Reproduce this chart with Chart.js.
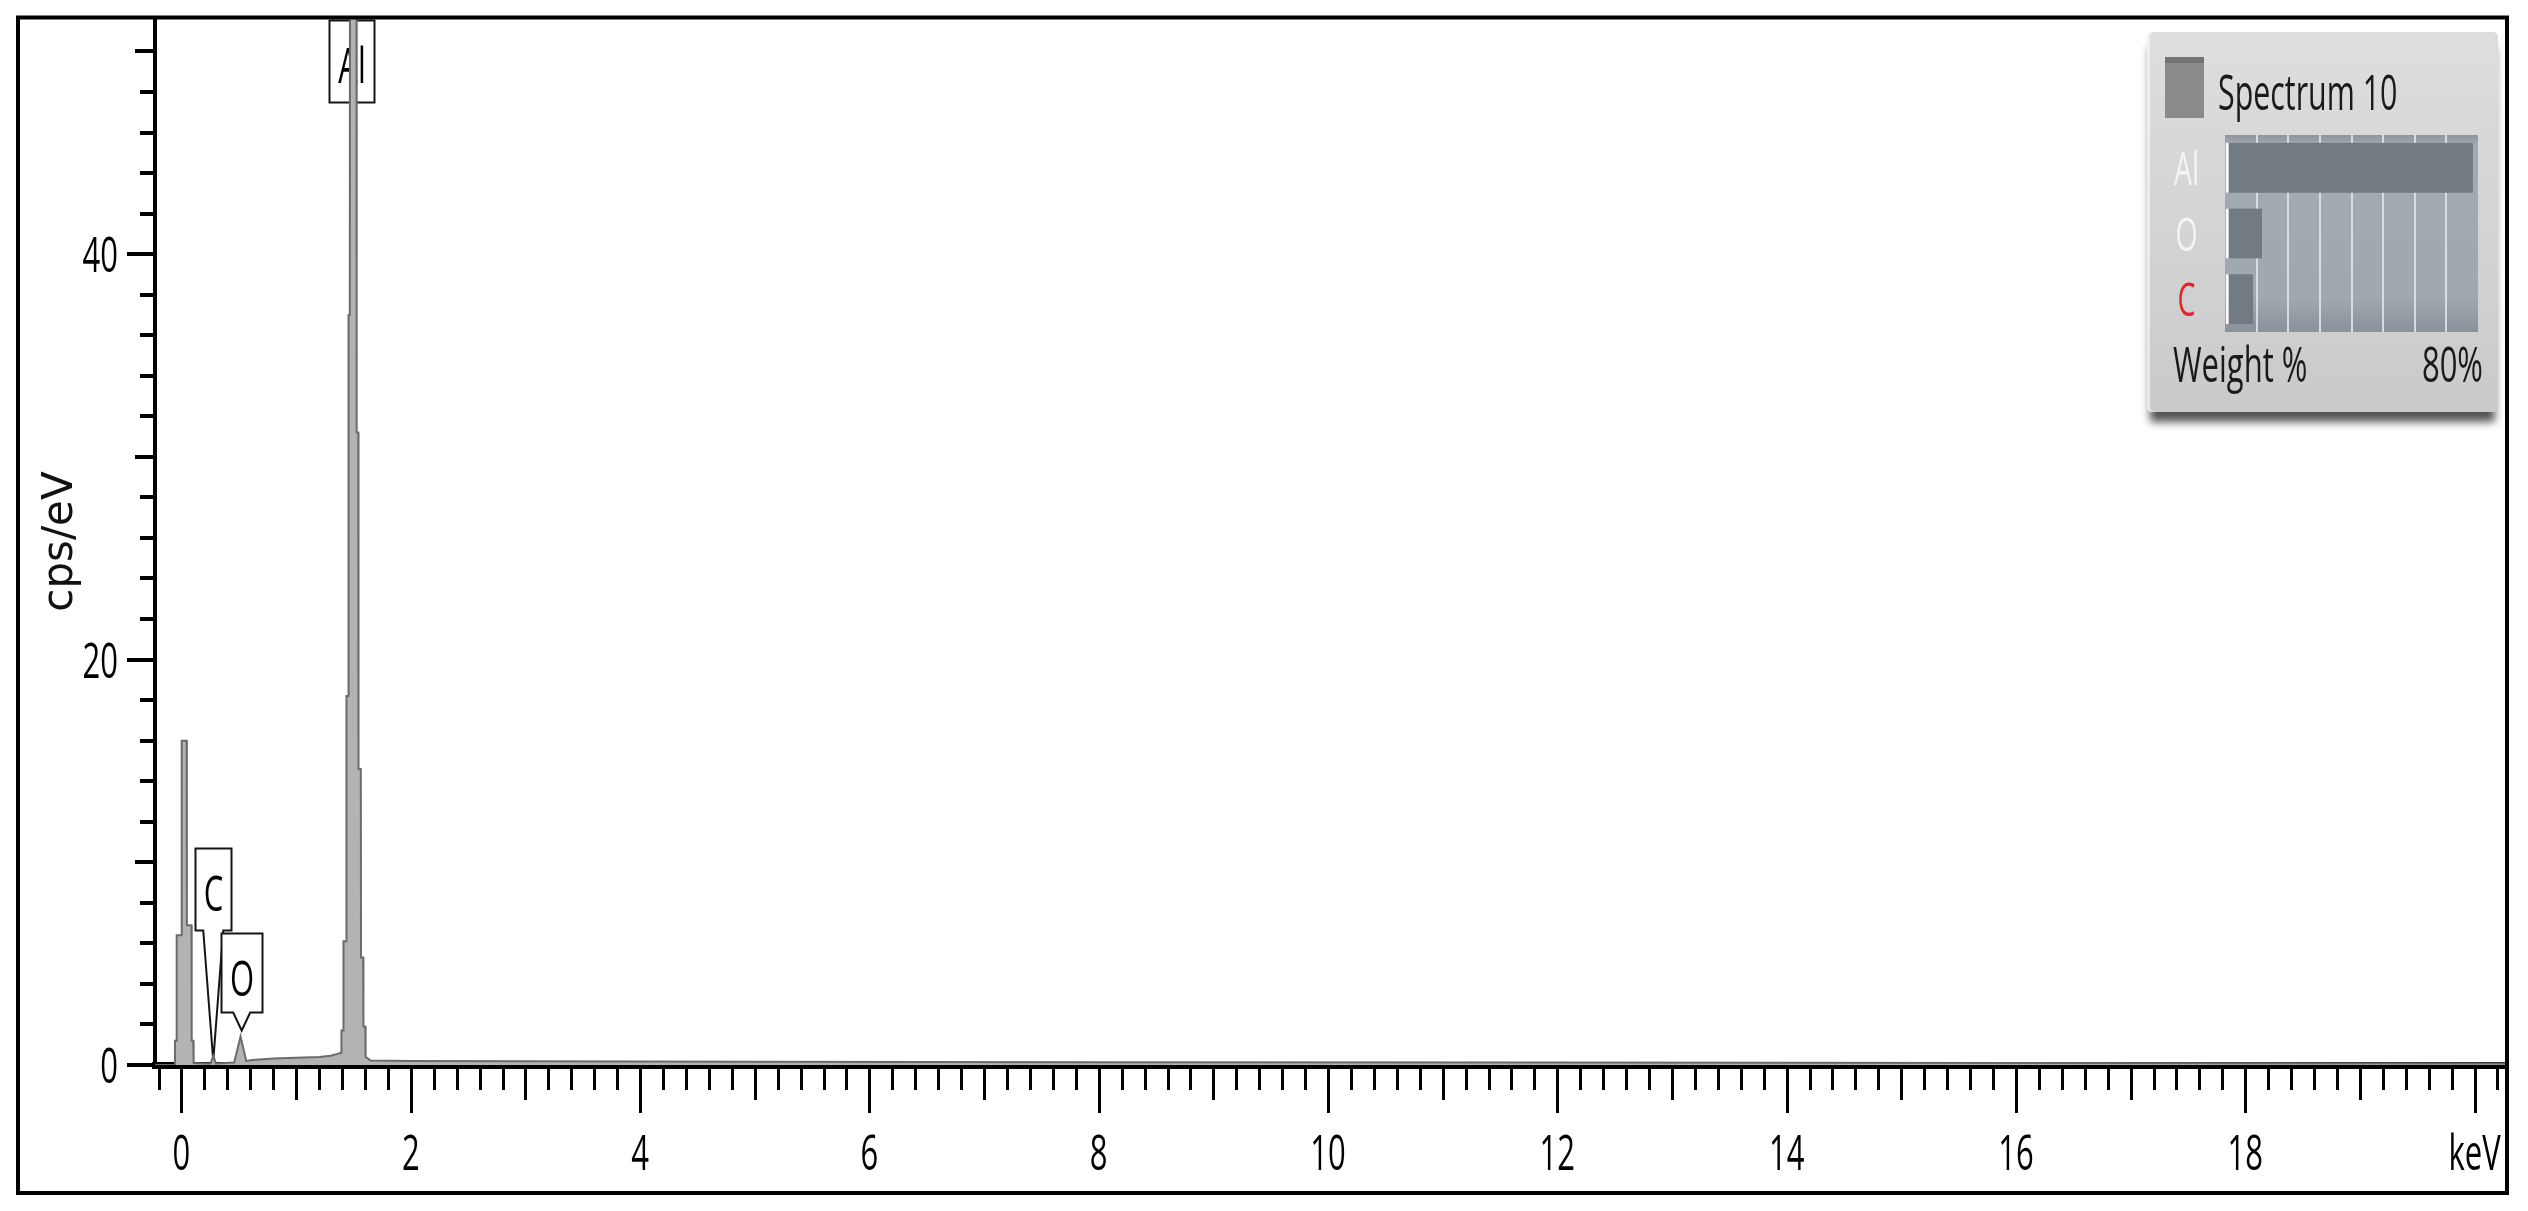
<!DOCTYPE html>
<html>
<head>
<meta charset="utf-8">
<title>Spectrum 10 — EDS</title>
<script src="https://cdn.jsdelivr.net/npm/chart.js@4.4.1/dist/chart.umd.min.js"></script>
<style>
  html, body { margin: 0; padding: 0; background: #fff; }
  body { width: 2528px; height: 1211px; position: relative; overflow: hidden; }
  #spectrum { position: absolute; left: 0; top: 0; }
  #legend-panel {
    position: absolute; left: 2147px; top: 32px; width: 351px; height: 380px;
    background: linear-gradient(180deg, #dedede 0%, #d4d4d4 50%, #cacaca 100%);
    border-radius: 5px;
    box-shadow: 0 13px 9px -3px rgba(35,35,35,0.78), inset 3px 0 0 rgba(255,255,255,0.55);
  }
  #weights { position: absolute; left: 0; top: 0; }
</style>
</head>
<body>
<canvas id="spectrum" width="2528" height="1211"></canvas>
<div id="legend-panel"><canvas id="weights" width="351" height="380"></canvas></div>

<script>
/* ============================================================
   EDS SPECTRUM 10 — cps/eV vs keV
   ============================================================ */

// ── DATA ─────────────────────────────────────────────────────

const energyKeV = [
  -0.231, -0.060, -0.057, -0.044, -0.042, 0.000, 0.002, 0.045, 0.047, 0.087, 0.089, 0.103, 0.106,
  0.200, 0.255, 0.277, 0.300, 0.460, 0.515, 0.565, 0.620, 0.800, 1.000, 1.200, 1.300, 1.360, 1.392,
  1.395, 1.411, 1.413, 1.437, 1.439, 1.455, 1.457, 1.468, 1.470, 1.526, 1.528, 1.542, 1.544,
  1.564, 1.566, 1.585, 1.587, 1.603, 1.606, 1.650,
  2.0, 3.0, 5.0, 8.0, 12.0, 16.0, 20.283,
];
const countsPerEV = [
  0.0, 0.0, 1.2, 1.2, 6.4, 6.4, 16.0, 16.0, 6.9, 6.9, 1.2, 1.2, 0.1,
  0.08, 0.08, 0.45, 0.08, 0.12, 1.4, 0.2, 0.25, 0.32, 0.36, 0.40, 0.46, 0.55, 0.6,
  1.7, 1.7, 6.1, 6.1, 18.2, 18.2, 37.0, 37.0, 58.0, 58.0, 31.2, 31.2, 14.6,
  14.6, 5.3, 5.3, 1.9, 1.9, 0.4, 0.22,
  0.20, 0.18, 0.16, 0.14, 0.12, 0.10, 0.08,
];

const xTickValues = [0, 2, 4, 6, 8, 10, 12, 14, 16, 18, 20];
const xTickLabels = ['0', '2', '4', '6', '8', '10', '12', '14', '16', '18', 'keV'];
const yTickValues = [0, 20, 40];
const yTickLabels = ['0', '20', '40'];

// peak callouts: element, line energy (keV), where the tail points (cps/eV)
const peakNames  = ['Al', 'C', 'O'];
const peakEnergy = [1.486, 0.277, 0.525];
const peakTipCps = [null, 0.2, 1.7];

// quantification panel
const spectrumName = 'Spectrum 10';
const elements     = ['Al', 'O', 'C'];
const weightPct    = [78.4, 11.7, 8.9];

// ── STYLE ────────────────────────────────────────────────────

const FONT = '"Open Sans", "DejaVu Sans", sans-serif';
const SQUEEZE = 0.62;   // text in the source is horizontally condensed

const calloutBox = {
  Al: { top: 20,  w: 45, h: 82, tail: 0 },
  C:  { top: 848, w: 36, h: 82, tail: 10 },
  O:  { top: 933, w: 41, h: 79, tail: 8.5 },
};
const elementColor = { Al: '#f4f4f4', O: '#f4f4f4', C: '#e3262b' };

function squeezedText(ctx, text, x, y, size, color, align) {
  ctx.save();
  ctx.translate(x, y);
  ctx.scale(SQUEEZE, 1);
  ctx.font = `${size}px ${FONT}`;
  ctx.fillStyle = color;
  ctx.textAlign = align || 'left';
  ctx.textBaseline = 'alphabetic';
  ctx.fillText(text, 0, 0);
  ctx.restore();
}

// ── SPECTRUM PLUGINS ─────────────────────────────────────────

const calloutPlugin = {
  id: 'callouts',
  beforeDatasetsDraw(chart) {
    const { ctx, scales: { x, y } } = chart;
    peakNames.forEach((name, i) => {
      const box = calloutBox[name];
      const cx = x.getPixelForValue(peakEnergy[i]);
      const l = Math.round(cx - box.w / 2) + 0.5, r = l + box.w;
      const t = box.top + 0.5, b = t + box.h;

      ctx.save();
      ctx.beginPath();
      ctx.moveTo(l, t);
      ctx.lineTo(r, t);
      ctx.lineTo(r, b);
      if (peakTipCps[i] !== null) {
        ctx.lineTo(cx + box.tail, b);
        ctx.lineTo(cx, y.getPixelForValue(peakTipCps[i]));
        ctx.lineTo(cx - box.tail, b);
      }
      ctx.lineTo(l, b);
      ctx.closePath();
      ctx.fillStyle = '#fff';
      ctx.fill();
      ctx.lineWidth = 2;
      ctx.strokeStyle = '#151515';
      ctx.stroke();
      ctx.restore();

      squeezedText(ctx, name, (l + r) / 2, t + 62, 50, '#000', 'center');
    });
  },
};

const axisTicksPlugin = {
  id: 'axisTicks',
  afterDraw(chart) {
    const { ctx, scales: { x, y }, chartArea } = chart;
    ctx.save();
    ctx.strokeStyle = '#000';

    // x: minor every 0.2 keV, medium on odd keV, long on even keV
    ctx.lineWidth = 3;
    for (let i = Math.ceil(x.min / 0.2); i * 0.2 <= x.max; i++) {
      const px = Math.round(x.getPixelForValue(i * 0.2)) + 0.5;
      const len = i % 10 === 0 ? 48 : i % 5 === 0 ? 35 : 25;
      ctx.beginPath();
      ctx.moveTo(px, chartArea.bottom);
      ctx.lineTo(px, chartArea.bottom + len);
      ctx.stroke();
    }

    // y: minor every 2, medium at 10/30/50, long at 0/20/40
    ctx.lineWidth = 4;
    for (let v = 0; v <= y.max; v += 2) {
      const py = Math.round(y.getPixelForValue(v));
      const len = v % 20 === 0 ? 28 : v % 10 === 0 ? 20 : 15;
      ctx.beginPath();
      ctx.moveTo(chartArea.left, py);
      ctx.lineTo(chartArea.left - len, py);
      ctx.stroke();
    }

    // outer frame
    ctx.lineWidth = 4;
    ctx.strokeRect(18, 17.5, 2489, 1175.5);
    ctx.restore();

    xTickValues.forEach((v, i) => {
      squeezedText(ctx, xTickLabels[i], x.getPixelForValue(v), 1170, 50, '#000', 'center');
    });
    yTickValues.forEach((v, i) => {
      squeezedText(ctx, yTickLabels[i], 118, y.getPixelForValue(v) + 18, 50, '#000', 'right');
    });
  },
};

// ── SPECTRUM CHART ───────────────────────────────────────────

new Chart(document.getElementById('spectrum'), {
  type: 'line',
  data: {
    datasets: [{
      data: energyKeV.map((e, i) => ({ x: e, y: countsPerEV[i] })),
      borderColor: '#6b6b6b',
      backgroundColor: '#b3b3b3',
      borderWidth: 2,
      fill: 'origin',
      pointRadius: 0,
      tension: 0,
    }],
  },
  options: {
    responsive: false,
    animation: false,
    devicePixelRatio: 1,
    layout: { padding: { left: 0, top: 18, right: 21, bottom: 0 } },
    plugins: { legend: { display: false }, tooltip: { enabled: false } },
    scales: {
      x: {
        type: 'linear',
        min: -0.231,
        max: 20.283,
        grid: { display: false },
        ticks: { display: false },
        border: { display: true, color: '#000', width: 7 },
        afterFit: (s) => { s.height = 146; },
      },
      y: {
        min: 0,
        max: 51.65,
        grid: { display: false },
        ticks: { display: false },
        border: { display: true, color: '#000', width: 4 },
        title: {
          display: true,
          text: 'cps/eV',
          color: '#111',
          font: { family: 'DejaVu Sans', size: 42 },
          padding: { top: 36, bottom: 0 },
        },
        afterFit: (s) => { s.width = 155; },
      },
    },
  },
  plugins: [calloutPlugin, axisTicksPlugin],
});

// ── WEIGHT % PANEL ───────────────────────────────────────────

const weightPanelPlugin = {
  id: 'weightPanel',
  beforeDraw(chart) {
    const { ctx, chartArea: a } = chart;
    const g = ctx.createLinearGradient(0, a.top, 0, a.bottom);
    g.addColorStop(0, '#8e969d');
    g.addColorStop(0.05, '#a3abb2');
    g.addColorStop(0.82, '#a1a9b0');
    g.addColorStop(1, '#89919a');
    ctx.fillStyle = g;
    ctx.fillRect(a.left, a.top, a.right - a.left, a.bottom - a.top);
  },
  afterDraw(chart) {
    const { ctx, scales: { x, y } } = chart;

    // series swatch
    ctx.fillStyle = '#8b8b8b';
    ctx.fillRect(18, 25, 39, 61);
    ctx.fillStyle = '#737373';
    ctx.fillRect(18, 25, 39, 6);

    squeezedText(ctx, spectrumName, 71, 78, 49, '#1a1a1a', 'left');

    elements.forEach((el, i) => {
      squeezedText(ctx, el, 39.5, y.getPixelForValue(i) + 17, 46, elementColor[el], 'center');
    });

    squeezedText(ctx, 'Weight %', 26, 350, 50, '#1a1a1a', 'left');
    squeezedText(ctx, `${x.max}%`, 336, 350, 50, '#1a1a1a', 'right');
  },
};

new Chart(document.getElementById('weights'), {
  type: 'bar',
  data: {
    labels: elements,
    datasets: [{
      data: weightPct,
      backgroundColor: '#737b82',
      borderColor: 'rgba(255,255,255,0.95)',
      borderWidth: { left: 3, top: 0, right: 0, bottom: 0 },
      borderSkipped: false,
      barThickness: 50,
    }],
  },
  options: {
    indexAxis: 'y',
    responsive: false,
    animation: false,
    devicePixelRatio: 1,
    layout: { padding: { left: 78, top: 103, right: 20, bottom: 80 } },
    plugins: { legend: { display: false }, tooltip: { enabled: false } },
    scales: {
      x: {
        min: 0,
        max: 80,
        ticks: { display: false, stepSize: 10 },
        grid: {
          drawTicks: false,
          lineWidth: 2,
          color: (c) => (c.tick && c.tick.value > 0 && c.tick.value < 80) ? 'rgba(222,226,231,0.9)' : 'rgba(0,0,0,0)',
        },
        border: { display: false },
        afterFit: (s) => { s.height = 0; },
      },
      y: { display: false },
    },
  },
  plugins: [weightPanelPlugin],
});
</script>
</body>
</html>
